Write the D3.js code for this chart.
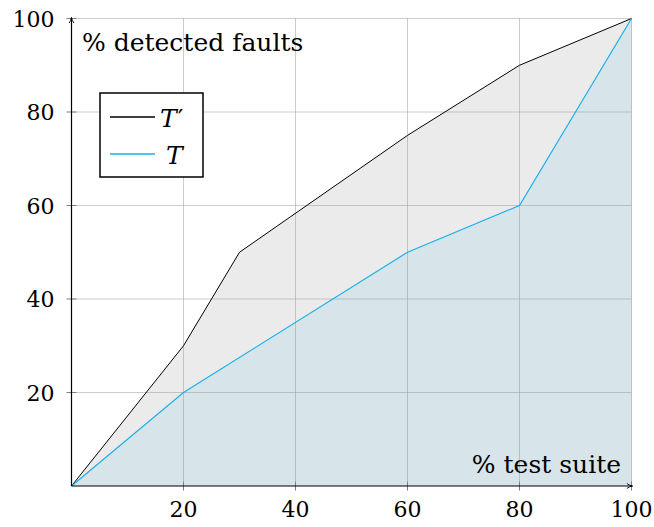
<!DOCTYPE html>
<html>
<head>
<meta charset="utf-8">
<title>Detected faults vs test suite</title>
<script src="https://cdn.jsdelivr.net/npm/d3@7/dist/d3.min.js"></script>
<style>
  body { margin: 0; background: #fff; }
  svg text { font-family: "DejaVu Serif", serif; }
  .tick-label { font-size: 22px; fill: #000; }
  .axis-label { font-size: 25px; fill: #000; }
  .grid line { stroke: #9a9a9a; stroke-opacity: 0.5; stroke-width: 1; }
</style>
</head>
<body>
<svg id="chart" width="654" height="527"></svg>
<script>
// data
const xPct = [0, 20, 30, 60, 80, 100];
const tPrime = [0, 30, 50, 75, 90, 100];
const xPctT = [0, 20, 60, 80, 100];
const tVals = [0, 20, 50, 60, 100];
const xTicks = [20, 40, 60, 80, 100];
const yTicks = [20, 40, 60, 80, 100];
const seriesNames = ["T", "T"];
const seriesPrime = ["\u2032", ""];

const svg = d3.select('#chart');
const plotLeft = 71.5, plotRight = 631.5, plotTop = 18.5, plotBottom = 486;

const x = d3.scaleLinear().domain([0, 100]).range([plotLeft, plotRight]);
const y = d3.scaleLinear().domain([0, 100]).range([plotBottom, plotTop]);

const ptsPrime = xPct.map((v, i) => ({x: v, y: tPrime[i]}));
const ptsT = xPctT.map((v, i) => ({x: v, y: tVals[i]}));

const area = d3.area().x(d => x(d.x)).y0(y(0)).y1(d => y(d.y));
const line = d3.line().x(d => x(d.x)).y(d => y(d.y));

// fills
svg.append('path').datum(ptsPrime).attr('d', area).attr('fill', '#ebebeb');
svg.append('path').datum(ptsT).attr('d', area).attr('fill', '#d7e4ea');

// grid
const grid = svg.append('g').attr('class', 'grid');
grid.selectAll('.gx').data(xTicks).join('line')
  .attr('x1', d => x(d)).attr('x2', d => x(d))
  .attr('y1', y(0)).attr('y2', y(100));
grid.selectAll('.gy').data(yTicks).join('line')
  .attr('x1', x(0)).attr('x2', x(100))
  .attr('y1', d => y(d)).attr('y2', d => y(d));

// tick marks (both sides of the axes)
svg.append('g').selectAll('line').data(xTicks).join('line')
  .attr('x1', d => x(d)).attr('x2', d => x(d))
  .attr('y1', y(0) - 4.5).attr('y2', y(0) + 4.5)
  .attr('stroke', '#808080').attr('stroke-width', 1);
svg.append('g').selectAll('line').data(yTicks).join('line')
  .attr('x1', x(0) - 5).attr('x2', x(0) + 5)
  .attr('y1', d => y(d)).attr('y2', d => y(d))
  .attr('stroke', '#808080').attr('stroke-width', 1);

// series lines
svg.append('path').datum(ptsPrime).attr('d', line)
  .attr('fill', 'none').attr('stroke', '#000').attr('stroke-width', 1);
svg.append('path').datum(ptsT).attr('d', line)
  .attr('fill', 'none').attr('stroke', '#1ab0e8').attr('stroke-width', 1.2);

// axis lines with arrows
const defs = svg.append('defs');
defs.append('marker').attr('id', 'arrow')
  .attr('viewBox', '0 0 10 10').attr('refX', 9).attr('refY', 5)
  .attr('markerWidth', 7).attr('markerHeight', 7).attr('orient', 'auto')
  .attr('markerUnits', 'userSpaceOnUse')
  .append('path').attr('d', 'M1,1.5 Q5,4.5 9,5 Q5,5.5 1,8.5')
  .attr('fill', 'none').attr('stroke', '#000').attr('stroke-width', 1.3);

svg.append('line')
  .attr('x1', x(0)).attr('y1', y(0)).attr('x2', x(0)).attr('y2', y(100) - 1)
  .attr('stroke', '#000').attr('stroke-width', 1.2).attr('marker-end', 'url(#arrow)');
svg.append('line')
  .attr('x1', x(0)).attr('y1', y(0)).attr('x2', x(100) + 1).attr('y2', y(0))
  .attr('stroke', '#000').attr('stroke-width', 1.2).attr('marker-end', 'url(#arrow)');

// tick labels
svg.append('g').selectAll('text').data(xTicks).join('text')
  .attr('class', 'tick-label')
  .attr('x', d => x(d)).attr('y', y(0) + 31)
  .attr('text-anchor', 'middle')
  .text(d => d);
svg.append('g').selectAll('text').data(yTicks).join('text')
  .attr('class', 'tick-label')
  .attr('x', x(0) - 17).attr('y', d => y(d) + 8)
  .attr('text-anchor', 'end')
  .text(d => d);

// axis labels
svg.append('text').attr('class', 'axis-label')
  .attr('x', 82).attr('y', 51).text('% detected faults');
svg.append('text').attr('class', 'axis-label')
  .attr('x', 621).attr('y', 473).attr('text-anchor', 'end').text('% test suite');

// legend
const lg = svg.append('g').attr('transform', 'translate(100,93)');
lg.append('rect').attr('width', 103).attr('height', 84)
  .attr('fill', '#fff').attr('stroke', '#000').attr('stroke-width', 1.5);
const colors = ['#000', '#1ab0e8'];
seriesNames.forEach((name, i) => {
  const yy = 24 + i * 37;
  lg.append('line').attr('x1', 10).attr('x2', 55).attr('y1', yy).attr('y2', yy)
    .attr('stroke', colors[i]).attr('stroke-width', 1.6);
  const t = lg.append('text').attr('class', 'axis-label')
    .attr('x', 60 + i * 6).attr('y', yy + 10);
  t.append('tspan').attr('font-style', 'italic').text(name);
  if (seriesPrime[i]) t.append('tspan').attr('dx', 1).text(seriesPrime[i]);
});
</script>
</body>
</html>
